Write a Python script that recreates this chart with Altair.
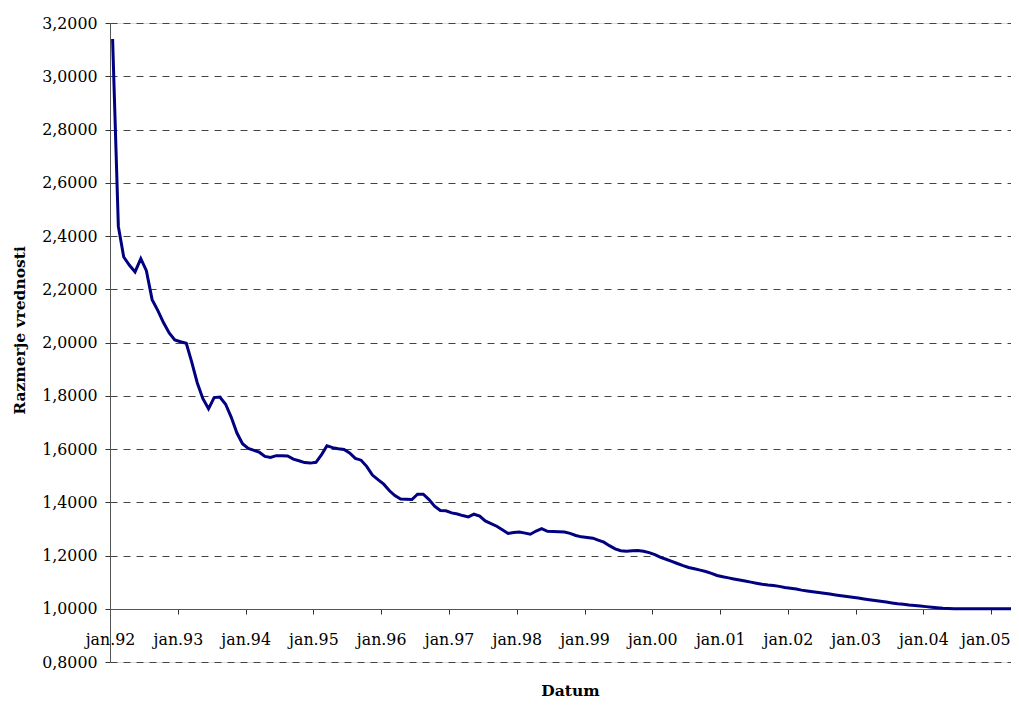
import altair as alt
import pandas as pd

# Monthly values (mid-month), Jan 1992 .. May 2005
values = [
    3.140, 2.436, 2.321, 2.290, 2.265, 2.315, 2.270, 2.161, 2.120, 2.075,
    2.036, 2.010, 2.003, 1.997, 1.930, 1.849, 1.790, 1.751, 1.793, 1.795,
    1.768, 1.720, 1.660, 1.620, 1.602, 1.595, 1.588, 1.572, 1.568, 1.575,
    1.575, 1.574, 1.562, 1.556, 1.549, 1.547, 1.550, 1.580, 1.612, 1.605,
    1.601, 1.598, 1.585, 1.565, 1.558, 1.535, 1.502, 1.485, 1.468, 1.443,
    1.425, 1.412, 1.411, 1.410, 1.430, 1.430, 1.410, 1.385, 1.369, 1.368,
    1.360, 1.356, 1.350, 1.345, 1.355, 1.348, 1.330, 1.320, 1.310, 1.297,
    1.283, 1.286, 1.288, 1.284, 1.280, 1.292, 1.301, 1.291, 1.290, 1.289,
    1.288, 1.283, 1.275, 1.270, 1.268, 1.265, 1.258, 1.250, 1.237, 1.225,
    1.218, 1.216, 1.218, 1.219, 1.216, 1.211, 1.203, 1.193, 1.186, 1.178,
    1.170, 1.162, 1.155, 1.150, 1.145, 1.140, 1.133, 1.125, 1.120, 1.116,
    1.112, 1.108, 1.104, 1.100, 1.096, 1.092, 1.089, 1.087, 1.084, 1.080,
    1.077, 1.074, 1.070, 1.067, 1.064, 1.061, 1.058, 1.055, 1.052, 1.049,
    1.046, 1.043, 1.040, 1.037, 1.034, 1.031, 1.028, 1.025, 1.022, 1.019,
    1.017, 1.014, 1.012, 1.010, 1.008, 1.006, 1.004, 1.002, 1.001, 1.000,
    1.000, 1.000, 1.000, 1.000, 1.000, 1.000, 1.000, 1.000, 1.000, 1.000,
    1.000,
]
dates = (pd.date_range(start="1992-01-01", periods=len(values), freq="MS")
         + pd.Timedelta(days=14)).strftime("%Y-%m-%d").tolist()

y_ticks = [0.8, 1.0, 1.2, 1.4, 1.6, 1.8, 2.0, 2.2, 2.4, 2.6, 2.8, 3.0, 3.2]
tick_years = list(range(1992, 2006))

df = pd.DataFrame({"Datum": dates, "Razmerje": values})

FONT = "DejaVu Serif"

chart = alt.Chart(df).mark_line(color="#000080", strokeWidth=3, clip=True).encode(
    x=alt.X(
        "Datum:T",
        scale=alt.Scale(
            type="utc",
            domain=[alt.DateTime(year=1992, month=1, date=1, utc=True),
                    alt.DateTime(year=2005, month=4, date=17, utc=True)],
        ),
        axis=alt.Axis(
            title="Datum",
            values=[alt.DateTime(year=y, month=1, date=1, utc=True) for y in tick_years],
            labelExpr="'jan.' + utcFormat(datum.value, '%y')",
            labelOffset={"condition": {"test": "utcyear(datum.value) == 2005", "value": -6},
                         "value": 0},
            offset=-53,
            grid=False,
            tickSize=5,
            tickColor="#333333",
            domainColor="#555555",
            labelBaseline="alphabetic",
            labelPadding=30,
            labelFont=FONT,
            labelFontSize=15.8,
            labelColor="#000000",
            labelFlush=False,
            labelOverlap=False,
            titleFont=FONT,
            titleFontSize=15.5,
            titleFontWeight="bold",
            titleColor="#000000",
            titleX=460,
            titleY=86,
            titleBaseline="alphabetic",
        ),
    ),
    y=alt.Y(
        "Razmerje:Q",
        scale=alt.Scale(domain=[0.8, 3.2], nice=False, zero=False),
        axis=alt.Axis(
            title="Razmerje vrednosti",
            values=y_ticks,
            labelExpr="replace(format(datum.value, '.4f'), '.', ',')",
            grid=True,
            gridDash=[7, 6],
            gridColor="#444444",
            gridWidth=1,
            tickSize=5,
            tickColor="#333333",
            domainColor="#555555",
            labelPadding=8,
            labelFont=FONT,
            labelFontSize=15.8,
            labelColor="#000000",
            labelFlush=False,
            labelOverlap=False,
            titleFont=FONT,
            titleFontSize=15.5,
            titleFontWeight="bold",
            titleColor="#000000",
            titleAngle=-90,
            titleX=-86,
            titleY=307,
            titleAlign="center",
            titleBaseline="alphabetic",
        ),
    ),
).properties(
    width=901,
    height=639,
    autosize=alt.AutoSizeParams(type="none"),
    padding={"left": 102, "top": 15, "right": 0, "bottom": 36},
).configure_view(strokeWidth=0).configure(background="#ffffff")

chart.save("out.html", embed_options={"renderer": "svg", "actions": False})
